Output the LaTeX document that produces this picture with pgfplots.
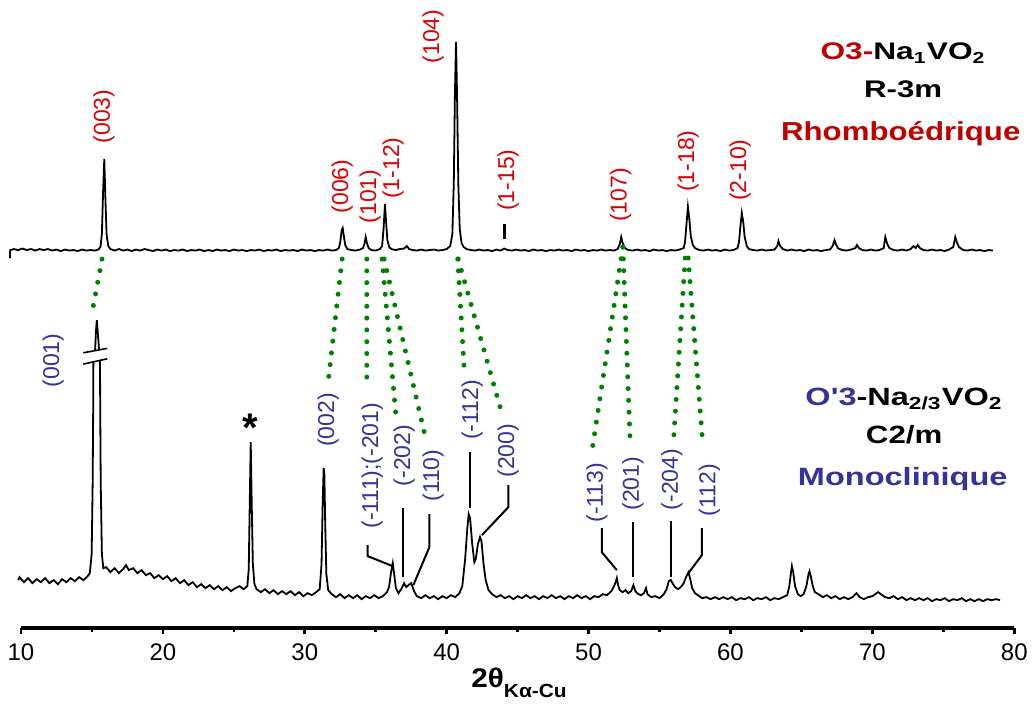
\documentclass[border=0pt]{standalone}
\usepackage{fontspec}
\setmainfont{Liberation Sans}
\usepackage{graphicx}
\usepackage{pgfplots}
\pgfplotsset{compat=1.18}
\definecolor{tred}{RGB}{192,0,0}
\definecolor{lred}{RGB}{221,0,0}
\definecolor{mblue}{RGB}{51,51,153}
\definecolor{mgreen}{RGB}{0,128,0}

\begin{document}
\begin{tikzpicture}[
  hkl/.style={font=\fontsize{11.5}{11.5}\selectfont, rotate=90, inner sep=0pt, anchor=center},
  dots/.style={mgreen, line width=2.5pt, line cap=round, dash pattern=on 0pt off 5.9pt},
  lead/.style={black, line width=1pt},
]
\begin{axis}[
  scale only axis, width=496.5pt, height=314pt,
  xmin=10, xmax=80, ymin=76, ymax=704,
  axis x line=bottom, axis y line=none, ytick=\empty,
  x axis line style={-, line width=1.8pt},
  xtick={10,20,...,80}, minor xtick={15,25,...,75},
  tick align=outside,
  major tick length=3pt, minor tick length=2pt,
  every tick/.style={black, line width=1.3pt},
  xticklabel style={font=\fontsize{12}{12}\selectfont, anchor=north, yshift=-1.5pt},
  /pgf/number format/assume math mode=true,
  clip=false,
  unbounded coords=jump,
]
% upper pattern: O3-Na1VO2
\addplot[black, line width=0.9pt, mark=none] coordinates {
(9.22,446)(9.24,454)(9.5,455)(9.8,454)(10.1,455.5)(10.4,454)(10.7,455)(11.0,453.5)(11.3,455)(11.6,454)(11.9,455)(12.2,453.5)(12.5,454.5)(12.8,453)(13.1,454.5)(13.4,453.5)(13.7,454)(14.0,453)(14.3,454.5)(14.6,453.5)(14.9,454)(15.2,453.5)(15.45,454.5)
(15.6,457)(15.7,470)(15.78,510)(15.87,545)(15.95,505)(16.03,470)(16.15,458)(16.3,455)
(16.6,453.5)(16.9,455)(17.2,453.5)(17.5,454.5)(17.8,453)(18.1,454.5)(18.4,453.5)(18.7,455)(19.0,454)(19.3,453)(19.6,454.5)(19.9,453.5)(20.2,454.5)(20.5,453)(20.8,454)(21.1,453.5)(21.4,454.5)(21.7,453)(22.0,454)(22.3,453.5)(22.6,454.5)(22.9,453)(23.2,454)(23.5,453)(23.8,454.5)(24.1,453.5)(24.4,454)(24.7,453)(25.0,454.5)(25.3,453.5)(25.6,454)(25.9,453)(26.2,454)(26.5,453.5)(26.8,454.5)(27.1,453)(27.4,454)(27.7,453.5)(28.0,454.5)(28.3,453)(28.6,454)(28.9,453.5)(29.2,454)(29.5,453)(29.8,454.5)(30.1,453.5)(30.4,454)(30.7,453)(31.0,454)(31.3,453.5)(31.6,454.5)(31.9,453.5)(32.2,454)
(32.4,456)(32.5,462)(32.6,474)(32.67,476)(32.75,468)(32.85,459)(33.0,455)
(33.3,454)(33.6,453.5)(33.9,454.5)(34.1,456)(34.2,460)(34.29,467)(34.38,461)(34.5,456)(34.7,454)(35.0,453.5)(35.3,455)
(35.45,458)(35.55,475)(35.65,500)(35.73,482)(35.82,464)(35.95,457)(36.1,455)(36.4,454)(36.7,455)(37.0,455.5)(37.2,458)(37.35,455)(37.6,454)(37.9,453.5)(38.2,454.5)(38.5,453.5)(38.8,454)(39.1,454.5)(39.4,453.5)(39.7,454)(40.0,455)(40.25,458)
(40.4,470)(40.5,520)(40.58,610)(40.66,662)(40.74,600)(40.82,520)(40.92,475)(41.05,461)(41.2,457)(41.4,455)(41.7,454)(42.0,453.5)(42.3,454.5)(42.6,453.5)(42.9,454)(43.2,453)(43.5,454.5)(43.8,453.5)(44.05,455.5)(44.3,454)(44.6,453.5)(44.9,454.5)(45.2,453.5)(45.5,454)(45.8,453)(46.1,454.5)(46.4,453.5)(46.7,454)(47.0,453)(47.3,454)(47.6,453.5)(47.9,454.5)(48.2,453.5)(48.5,454)(48.8,453)(49.1,454.5)(49.4,453.5)(49.7,454)(50.0,453)(50.3,454)(50.6,453.5)(50.9,454.5)(51.2,453.5)(51.5,454)(51.8,453.5)(52.05,455)
(52.2,460)(52.30,467)(52.4,461)(52.55,456)(52.8,454)(53.1,453.5)(53.4,454.5)(53.7,453.5)(54.0,454)(54.3,453)(54.6,454.5)(54.9,453.5)(55.2,454)(55.5,453)(55.8,454)(56.1,453.5)(56.4,454.5)(56.7,456)
(56.8,462)(56.9,480)(57.0,497)(57.1,485)(57.2,468)(57.35,459)(57.5,456)(57.8,454)(58.1,453.5)(58.4,454.5)(58.7,453.5)(59.0,454)(59.3,453)(59.6,454.5)(59.9,453.5)(60.2,454)(60.5,456)
(60.6,462)(60.7,478)(60.8,491)(60.9,482)(61.0,467)(61.15,458)(61.3,455)(61.6,454)(61.9,453.5)(62.2,454.5)(62.5,453.5)(62.8,454)(63.1,454.5)(63.3,458)(63.38,463)(63.5,458)(63.7,455)(64.0,453.5)(64.3,454.5)(64.6,453.5)(64.9,454)(65.2,453)(65.5,454.5)(65.8,453.5)(66.1,454)(66.4,453)(66.7,454)(67.0,454.5)(67.2,458)(67.33,464)(67.45,459)(67.6,455.5)(67.9,454)(68.2,453.5)(68.5,454.5)(68.8,456)(68.91,459)(69.05,456)(69.3,454)(69.6,453.5)(69.9,454.5)(70.2,453.5)(70.5,454)(70.8,456)(70.91,467)(71.05,460)(71.2,456)(71.5,454)(71.8,453.5)(72.1,454.5)(72.4,453.5)(72.7,455)(72.9,458)(73.05,456)(73.2,459)(73.35,456)(73.6,454)(73.9,453.5)(74.2,454.5)(74.5,453.5)(74.8,454)(75.1,453)(75.4,454.5)(75.7,457)(75.84,467)(75.95,462)(76.1,457)(76.4,454)(76.7,453.5)(77.0,454.5)(77.3,453.5)(77.6,454)(77.9,453)(78.2,454)(78.5,453.5)
};
% lower pattern: O'3-Na2/3VO2
\addplot[black, line width=0.9pt, mark=none] coordinates {
(9.8,124)(9.9,127)(10.2,122)(10.5,126)(10.8,121)(11.1,125)(11.4,122)(11.7,126)(12.0,121)(12.3,124)(12.6,120)(12.9,125)(13.2,122)(13.5,126)(13.8,123)(14.1,127)(14.4,124)(14.7,128)(14.85,131)
(14.98,150)(15.05,220)(15.09,300)(15.10,342.5)(15.16,nan)(15.22,353.5)(15.28,372)(15.34,384)(15.41,372)(15.50,354.2)(15.53,nan)(15.57,343.6)(15.58,300)(15.62,220)(15.7,150)(15.8,136)
(16.0,137)(16.3,132)(16.6,136)(16.9,131)(17.2,135)(17.4,139)(17.6,134)(17.9,136)(18.2,131)(18.5,134)(18.8,129)(19.1,131)(19.4,126)(19.7,129)(20.0,125)(20.3,128)(20.6,123)(20.9,126)(21.2,121)(21.5,124)(21.8,119)(22.1,122)(22.4,117)(22.7,120)(23.0,116)(23.3,119)(23.6,115)(23.9,118)(24.2,114)(24.5,117)(24.8,113)(25.1,116)(25.4,118)(25.7,115)(25.95,118)
(26.05,135)(26.12,200)(26.19,262)(26.26,200)(26.34,140)(26.45,120)(26.6,115)(26.9,112)(27.2,115)(27.5,111)(27.8,114)(28.1,110)(28.4,113)(28.7,110)(29.0,113)(29.3,109)(29.6,112)(29.9,108)(30.2,111)(30.5,109)(30.8,112)(31.05,115)
(31.18,140)(31.26,200)(31.33,236)(31.38,230)(31.44,180)(31.52,130)(31.65,114)(31.9,110)(32.2,107)(32.5,110)(32.8,106)(33.1,109)(33.4,106)(33.7,109)(34.0,105)(34.3,108)(34.6,106)(34.9,109)(35.2,106)(35.5,108)(35.8,112)
(35.95,118)(36.08,132)(36.2,141)(36.3,130)(36.42,116)(36.6,111)(36.8,115)(37.0,121)(37.15,117)(37.3,119)(37.5,121)(37.7,113)(37.9,108)(38.2,106)(38.5,109)(38.8,106)(39.1,108)(39.4,105)(39.7,108)(40.0,106)(40.3,109)(40.6,107)(40.9,111)(41.1,118)(41.3,145)
(41.45,175)(41.55,190)(41.65,186)(41.8,160)(41.95,142)(42.05,145)(42.2,160)(42.35,167)(42.45,163)(42.6,140)(42.75,124)(42.95,114)(43.2,110)(43.5,107)(43.8,109)(44.1,106)(44.4,108)(44.7,105)(45.0,108)(45.3,106)(45.6,109)(45.9,106)(46.2,108)(46.5,105)(46.8,108)(47.1,106)(47.4,109)(47.7,106)(48.0,108)(48.3,105)(48.6,108)(48.9,106)(49.2,109)(49.5,106)(49.8,108)(50.1,105)(50.4,108)(50.7,107)(51.0,110)(51.3,109)(51.6,113)(51.8,118)
(51.93,123)(51.99,126)(52.08,119)(52.2,114)(52.4,112)(52.6,114)(52.8,111)(53.0,113)(53.16,119)(53.3,113)(53.5,110)(53.7,109)(53.9,111)(54.05,116)(54.15,110)(54.4,107)(54.7,108)(55.0,106)(55.3,110)(55.5,115)(55.65,123)(55.8,124)(55.95,120)(56.1,117)(56.3,115)(56.5,117)(56.7,121)(56.9,128)(57.04,132)(57.15,126)(57.3,116)(57.5,111)(57.7,109)(58.0,106)(58.3,107)(58.6,105)(58.9,107)(59.2,105)(59.5,107)(59.8,105)(60.1,107)(60.4,104)(60.7,106)(61.0,105)(61.3,107)(61.6,104)(61.9,106)(62.2,105)(62.5,107)(62.8,104)(63.1,106)(63.4,105)(63.7,107)(64.0,109)(64.15,118)
(64.25,130)(64.33,138)(64.42,132)(64.55,118)(64.75,110)(64.95,108)(65.15,110)(65.35,118)(65.5,130)(65.57,133)(65.66,128)(65.8,118)(65.95,112)(66.2,110)(66.5,107)(66.8,109)(67.1,106)(67.4,108)(67.7,105)(68.0,107)(68.3,105)(68.6,107)(68.88,111)(69.1,107)(69.4,105)(69.7,107)(70.0,108)(70.2,110)(70.4,112)(70.6,110)(70.9,107)(71.2,106)(71.5,108)(71.8,105)(72.1,107)(72.4,104)(72.7,106)(73.0,104)(73.3,106)(73.6,104)(73.9,106)(74.2,103)(74.5,105)(74.8,104)(75.1,106)(75.4,103)(75.7,105)(76.0,104)(76.3,106)(76.6,103)(76.9,105)(77.2,103)(77.5,105)(77.8,103)(78.1,105)(78.4,104)(78.7,105)(79.0,104)
};
% axis break on (001)
\draw[black, line width=0.8pt] (axis cs:14.39,351.3) -- (axis cs:16.08,355.7);
\draw[black, line width=0.8pt] (axis cs:14.39,340) -- (axis cs:16.08,345.3);
% (1-15) mark
\draw[black, line width=1.5pt] (axis cs:44.05,465) -- (axis cs:44.05,480);
% green dotted correspondences
\draw[dots] (axis cs:15.71,445) -- (axis cs:15.08,397);
\draw[dots] (axis cs:32.63,445) -- (axis cs:31.66,324);
\draw[dots] (axis cs:34.37,445) -- (axis cs:34.37,323.3);
\draw[dots] (axis cs:35.45,445) -- (axis cs:36.43,287.3);
\draw[dots] (axis cs:35.59,445) -- (axis cs:38.48,268);
\draw[dots] (axis cs:40.78,445) -- (axis cs:41.23,336);
\draw[dots] (axis cs:40.81,445) -- (axis cs:43.84,293.3);
\draw[dots] (axis cs:52.42,457) -- (axis cs:50.23,252.3);
\draw[dots] (axis cs:52.42,457) -- (axis cs:52.93,262);
\draw[dots] (axis cs:56.81,446) -- (axis cs:55.98,262);
\draw[dots] (axis cs:57.02,446) -- (axis cs:58.05,260);
% black leaders (lower)
\draw[lead] (axis cs:34.43,159) -- (axis cs:34.43,148) -- (axis cs:36.20,138);
\draw[lead] (axis cs:36.95,196) -- (axis cs:36.95,127);
\draw[lead] (axis cs:38.78,190) -- (axis cs:38.78,157) -- (axis cs:37.65,119);
\draw[lead] (axis cs:41.65,252) -- (axis cs:41.65,196);
\draw[lead] (axis cs:44.35,219) -- (axis cs:44.35,197) -- (axis cs:42.48,169);
\draw[lead] (axis cs:50.93,176) -- (axis cs:50.93,152) -- (axis cs:51.99,134);
\draw[lead] (axis cs:53.16,182) -- (axis cs:53.16,127);
\draw[lead] (axis cs:55.80,183) -- (axis cs:55.80,127);
\draw[lead] (axis cs:57.98,176) -- (axis cs:57.98,149) -- (axis cs:57.04,131);
% red hkl labels
\node[hkl, lred] at (axis cs:15.85,587.5) {(003)};
\node[hkl, lred] at (axis cs:32.63,517.5) {(006)};
\node[hkl, lred] at (axis cs:34.60,507.5) {(101)};
\node[hkl, lred] at (axis cs:36.22,536) {(1-12)};
\node[hkl, lred] at (axis cs:39.04,667.5) {(104)};
\node[hkl, lred] at (axis cs:44.33,524) {(1-15)};
\node[hkl, lred] at (axis cs:52.27,509) {(107)};
\node[hkl, lred] at (axis cs:57.02,543) {(1-18)};
\node[hkl, lred] at (axis cs:60.68,534) {(2-10)};
% blue hkl labels
\node[hkl, mblue] at (axis cs:12.26,343.5) {(001)};
\node[hkl, mblue] at (axis cs:31.64,284) {(002)};
\node[hkl, mblue] at (axis cs:34.74,238.5) {(-111);(-201)};
\node[hkl, mblue] at (axis cs:37.0,248.5) {(-202)};
\node[hkl, mblue] at (axis cs:39.04,228.5) {(110)};
\node[hkl, mblue] at (axis cs:41.79,294) {(-112)};
\node[hkl, mblue] at (axis cs:44.33,253.5) {(200)};
\node[hkl, mblue] at (axis cs:50.58,211.5) {(-113)};
\node[hkl, mblue] at (axis cs:53.12,220.5) {(201)};
\node[hkl, mblue] at (axis cs:55.87,224.5) {(-204)};
\node[hkl, mblue] at (axis cs:58.52,214) {(112)};
% impurity star
\node[anchor=base, inner sep=0pt, font=\bfseries\fontsize{20}{20}\selectfont] at (axis cs:26.14,263) {*};
% titles upper
\node[anchor=base, inner sep=0pt, font=\bfseries\fontsize{12}{12}\selectfont] at (axis cs:72.17,644) {\scalebox{1.32}[1]{\textcolor{tred}{O3-}Na\textsubscript{1}VO\textsubscript{2}}};
\node[anchor=base, inner sep=0pt, font=\bfseries\fontsize{12}{12}\selectfont] at (axis cs:72.17,607) {\scalebox{1.3}[1]{R-3m}};
\node[anchor=base, inner sep=0pt, font=\bfseries\fontsize{13}{13}\selectfont, tred] at (axis cs:72.0,564) {\scalebox{1.2}[1]{Rhomboédrique}};
% titles lower
\node[anchor=base, inner sep=0pt, font=\bfseries\fontsize{12.5}{12.5}\selectfont] at (axis cs:72.24,299) {\scalebox{1.3}[1]{\textcolor{mblue}{O\textquotesingle 3}-Na\textsubscript{2/3}VO\textsubscript{2}}};
\node[anchor=base, inner sep=0pt, font=\bfseries\fontsize{12.5}{12.5}\selectfont] at (axis cs:72.24,261) {\scalebox{1.25}[1]{C2/m}};
\node[anchor=base, inner sep=0pt, font=\bfseries\fontsize{12.5}{12.5}\selectfont, mblue] at (axis cs:72.14,219) {\scalebox{1.3}[1]{Monoclinique}};
% x label
\node[anchor=base, inner sep=0pt] at (axis cs:45.1,17) {\scalebox{1.1}[1]{\fontsize{13.5}{13.5}\selectfont\bfseries 2θ\raisebox{-5pt}{\fontsize{9.5}{9.5}\selectfont\bfseries Kα-Cu}}};
\coordinate (bbll) at (axis cs:8.52,0);
\coordinate (bbur) at (axis cs:81.25,704);
\end{axis}
\pgfresetboundingbox
\path (bbll) rectangle (bbur);
\end{tikzpicture}
\end{document}
